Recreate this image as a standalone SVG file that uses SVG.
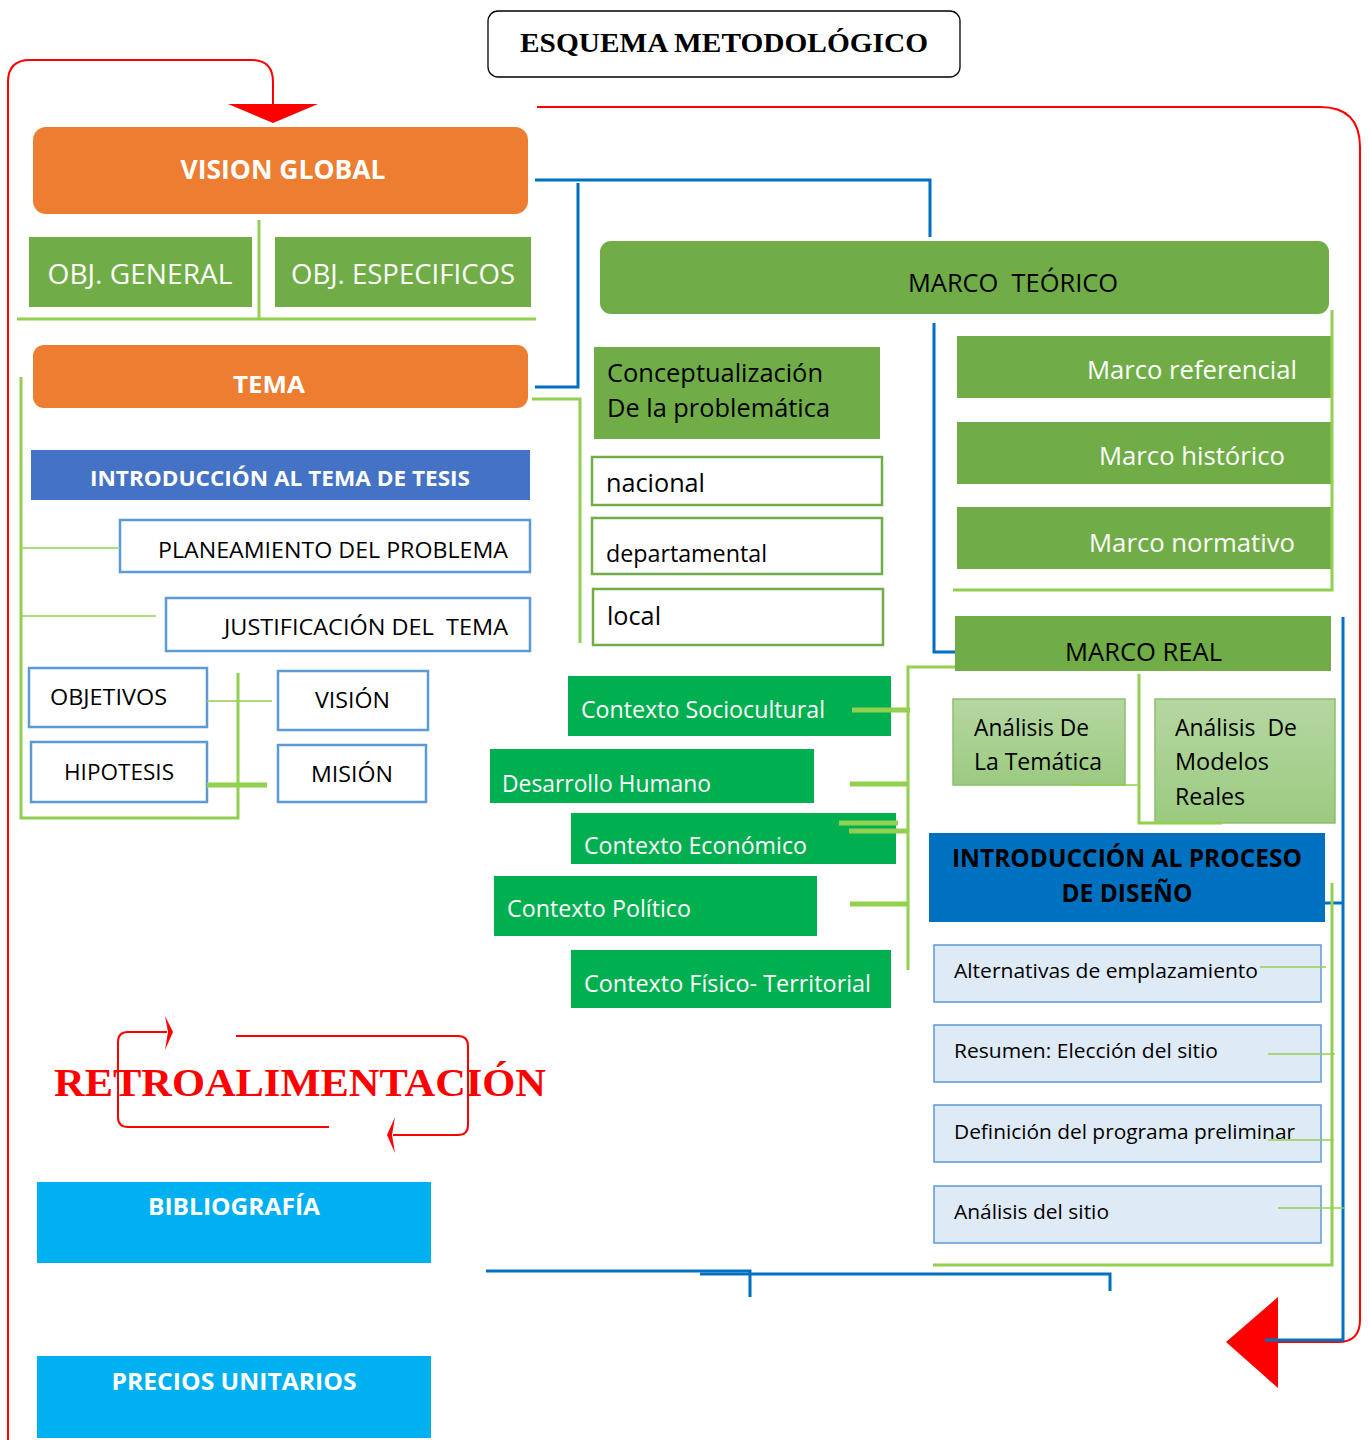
<svg xmlns="http://www.w3.org/2000/svg" width="1370" height="1440" viewBox="0 0 1370 1440">
<defs>
<linearGradient id="lg" x1="0" y1="0" x2="0" y2="1">
<stop offset="0" stop-color="#B5D7A2"/>
<stop offset="1" stop-color="#9CCA80"/>
</linearGradient>
<style>
.t{font-family:"Open Sans","Noto Sans","Liberation Sans",sans-serif;}
.b{font-weight:bold;}
.w{fill:#FFFFFF;}
.k{fill:#000000;}
.orange{fill:#ED7D31;}
.g{fill:#70AD47;}
.gg{fill:#00B050;}
.cy{fill:#00B0F0;}
.wb{fill:#FFFFFF;stroke:#5B9BD5;stroke-width:2.5;}
.wg{fill:#FFFFFF;stroke:#70AD47;stroke-width:2.5;}
.lb{fill:#DEEAF6;stroke:#5B9BD5;stroke-width:1.5;}
.lgbox{fill:url(#lg);stroke:#8DBF6E;stroke-width:1.5;}
.red{fill:none;stroke:#FF0000;stroke-width:2;}
.blue{fill:none;stroke:#0070C0;stroke-width:3;}
.grn{fill:none;stroke:#92D050;stroke-width:3;}
.grnt{fill:none;stroke:#92D050;stroke-width:1.3;}
.grnk{fill:none;stroke:#92D050;stroke-width:5;}
</style>
</defs>
<rect width="1370" height="1440" fill="#FFFFFF"/>

<g id="title">
<rect x="488" y="11" width="472" height="66" rx="10" fill="#FFFFFF" stroke="#000000" stroke-width="1.3"/>
<text x="724" y="52" text-anchor="middle" font-family="'Liberation Serif','Times New Roman',serif" font-weight="bold" font-size="28" textLength="408" lengthAdjust="spacingAndGlyphs">ESQUEMA METODOLÓGICO</text>
</g>

<g id="vision-global">
<rect class="orange" x="33" y="127" width="495" height="87" rx="13"/>
<text class="t b w" x="283" y="179" text-anchor="middle" font-size="27" textLength="205" lengthAdjust="spacingAndGlyphs">VISION GLOBAL</text>
</g>
<g id="obj-general">
<rect class="g" x="29" y="237" width="223" height="70"/>
<text class="t w" x="140" y="284" text-anchor="middle" font-size="27" textLength="185" lengthAdjust="spacingAndGlyphs">OBJ. GENERAL</text>
</g>
<g id="obj-especificos">
<rect class="g" x="275" y="237" width="256" height="70"/>
<text class="t w" x="403" y="284" text-anchor="middle" font-size="27" textLength="224" lengthAdjust="spacingAndGlyphs">OBJ. ESPECIFICOS</text>
</g>
<g id="tema">
<rect class="orange" x="33" y="345" width="495" height="63" rx="11"/>
<text class="t b w" x="269" y="393" text-anchor="middle" font-size="24" textLength="72" lengthAdjust="spacingAndGlyphs">TEMA</text>
</g>
<g id="intro-tema">
<rect x="31" y="450" width="499" height="50" fill="#4472C4"/>
<text class="t b w" x="280" y="486" text-anchor="middle" font-size="22" textLength="380" lengthAdjust="spacingAndGlyphs">INTRODUCCIÓN AL TEMA DE TESIS</text>
</g>
<g id="planeamiento">
<rect class="wb" x="120" y="520" width="410" height="52"/>
<text class="t k" x="508" y="558" text-anchor="end" font-size="22" textLength="350" lengthAdjust="spacingAndGlyphs">PLANEAMIENTO DEL PROBLEMA</text>
</g>
<g id="justificacion">
<rect class="wb" x="166" y="598" width="364" height="53"/>
<text class="t k" x="508" y="635" text-anchor="end" font-size="22" textLength="284" lengthAdjust="spacingAndGlyphs" xml:space="preserve">JUSTIFICACIÓN DEL  TEMA</text>
</g>
<g id="objetivos">
<rect class="wb" x="29" y="668" width="178" height="59"/>
<text class="t k" x="50" y="705" font-size="22" textLength="117" lengthAdjust="spacingAndGlyphs">OBJETIVOS</text>
</g>
<g id="hipotesis">
<rect class="wb" x="31" y="742" width="176" height="60"/>
<text class="t k" x="64" y="780" font-size="22" textLength="110" lengthAdjust="spacingAndGlyphs">HIPOTESIS</text>
</g>
<g id="vision">
<rect class="wb" x="278" y="671" width="150" height="59"/>
<text class="t k" x="315" y="708" font-size="22" textLength="75" lengthAdjust="spacingAndGlyphs">VISIÓN</text>
</g>
<g id="mision">
<rect class="wb" x="278" y="745" width="148" height="57"/>
<text class="t k" x="311" y="782" font-size="22" textLength="82" lengthAdjust="spacingAndGlyphs">MISIÓN</text>
</g>

<g id="marco-teorico">
<rect class="g" x="600" y="241" width="729" height="73" rx="11"/>
<text class="t k" x="908" y="292" font-size="26" textLength="210" lengthAdjust="spacingAndGlyphs" xml:space="preserve">MARCO  TEÓRICO</text>
</g>
<g id="conceptualizacion">
<rect class="g" x="594" y="347" width="286" height="92"/>
<text class="t k" x="607" y="382" font-size="25" textLength="216" lengthAdjust="spacingAndGlyphs">Conceptualización</text>
<text class="t k" x="607" y="417" font-size="25" textLength="223" lengthAdjust="spacingAndGlyphs">De la problemática</text>
</g>
<g id="nacional">
<rect class="wg" x="592" y="457" width="290" height="48"/>
<text class="t k" x="606" y="492" font-size="25" textLength="99" lengthAdjust="spacingAndGlyphs">nacional</text>
</g>
<g id="departamental">
<rect class="wg" x="592" y="518" width="290" height="56"/>
<text class="t k" x="606" y="562" font-size="24" textLength="161" lengthAdjust="spacingAndGlyphs">departamental</text>
</g>
<g id="local">
<rect class="wg" x="593" y="589" width="290" height="56"/>
<text class="t k" x="607" y="625" font-size="25" textLength="54" lengthAdjust="spacingAndGlyphs">local</text>
</g>

<g id="marco-referencial">
<rect class="g" x="957" y="336" width="374" height="62"/>
<text class="t w" x="1297" y="379" text-anchor="end" font-size="25" textLength="210" lengthAdjust="spacingAndGlyphs">Marco referencial</text>
</g>
<g id="marco-historico">
<rect class="g" x="957" y="422" width="374" height="62"/>
<text class="t w" x="1285" y="465" text-anchor="end" font-size="25" textLength="186" lengthAdjust="spacingAndGlyphs">Marco histórico</text>
</g>
<g id="marco-normativo">
<rect class="g" x="957" y="507" width="374" height="62"/>
<text class="t w" x="1295" y="552" text-anchor="end" font-size="25" textLength="206" lengthAdjust="spacingAndGlyphs">Marco normativo</text>
</g>
<g id="marco-real">
<rect class="g" x="955" y="616" width="376" height="55"/>
<text class="t k" x="1065" y="661" font-size="25" textLength="157" lengthAdjust="spacingAndGlyphs">MARCO REAL</text>
</g>
<g id="analisis-tematica">
<rect class="lgbox" x="953" y="699" width="172" height="86"/>
<text class="t k" x="974" y="736" font-size="24" textLength="115" lengthAdjust="spacingAndGlyphs">Análisis De</text>
<text class="t k" x="974" y="770" font-size="24" textLength="128" lengthAdjust="spacingAndGlyphs">La Temática</text>
</g>
<g id="analisis-modelos">
<rect class="lgbox" x="1155" y="699" width="180" height="124"/>
<text class="t k" x="1175" y="736" font-size="24" textLength="122" lengthAdjust="spacingAndGlyphs" xml:space="preserve">Análisis  De</text>
<text class="t k" x="1175" y="770" font-size="24" textLength="94" lengthAdjust="spacingAndGlyphs">Modelos</text>
<text class="t k" x="1175" y="805" font-size="24" textLength="70" lengthAdjust="spacingAndGlyphs">Reales</text>
</g>
<g id="intro-diseno">
<rect x="929" y="833" width="396" height="89" fill="#0070C0"/>
<text class="t b k" x="1127" y="867" text-anchor="middle" font-size="25" textLength="350" lengthAdjust="spacingAndGlyphs">INTRODUCCIÓN AL PROCESO</text>
<text class="t b k" x="1127" y="902" text-anchor="middle" font-size="25" textLength="131" lengthAdjust="spacingAndGlyphs">DE DISEÑO</text>
</g>
<g id="alternativas">
<rect class="lb" x="934" y="945" width="387" height="57"/>
<text class="t k" x="954" y="978" font-size="20" textLength="304" lengthAdjust="spacingAndGlyphs">Alternativas de emplazamiento</text>
</g>
<g id="resumen">
<rect class="lb" x="934" y="1025" width="387" height="57"/>
<text class="t k" x="954" y="1058" font-size="20" textLength="264" lengthAdjust="spacingAndGlyphs">Resumen: Elección del sitio</text>
</g>
<g id="definicion">
<rect class="lb" x="934" y="1105" width="387" height="57"/>
<text class="t k" x="954" y="1139" font-size="20" textLength="341" lengthAdjust="spacingAndGlyphs">Definición del programa preliminar</text>
</g>
<g id="analisis-sitio">
<rect class="lb" x="934" y="1186" width="387" height="57"/>
<text class="t k" x="954" y="1219" font-size="20" textLength="155" lengthAdjust="spacingAndGlyphs">Análisis del sitio</text>
</g>

<g id="contexto-sociocultural">
<rect class="gg" x="568" y="676" width="323" height="60"/>
<text class="t w" x="581" y="718" font-size="23" textLength="244" lengthAdjust="spacingAndGlyphs">Contexto Sociocultural</text>
</g>
<g id="desarrollo-humano">
<rect class="gg" x="490" y="749" width="324" height="54"/>
<text class="t w" x="502" y="792" font-size="23" textLength="209" lengthAdjust="spacingAndGlyphs">Desarrollo Humano</text>
</g>
<g id="contexto-economico">
<rect class="gg" x="571" y="813" width="325" height="51"/>
<text class="t w" x="584" y="854" font-size="23" textLength="223" lengthAdjust="spacingAndGlyphs">Contexto Económico</text>
</g>
<g id="contexto-politico">
<rect class="gg" x="494" y="876" width="323" height="60"/>
<text class="t w" x="507" y="917" font-size="23" textLength="184" lengthAdjust="spacingAndGlyphs">Contexto Político</text>
</g>
<g id="contexto-fisico">
<rect class="gg" x="571" y="950" width="320" height="58"/>
<text class="t w" x="584" y="992" font-size="23" textLength="287" lengthAdjust="spacingAndGlyphs">Contexto Físico- Territorial</text>
</g>

<g id="retroalimentacion">
<text x="54" y="1096" font-family="'Liberation Serif','Times New Roman',serif" font-weight="bold" font-size="41" fill="#FF0000" textLength="492" lengthAdjust="spacingAndGlyphs">RETROALIMENTACIÓN</text>
</g>
<g id="bibliografia">
<rect class="cy" x="37" y="1182" width="394" height="81"/>
<text class="t b w" x="234" y="1215" text-anchor="middle" font-size="23" textLength="172" lengthAdjust="spacingAndGlyphs">BIBLIOGRAFÍA</text>
</g>
<g id="precios-unitarios">
<rect class="cy" x="37" y="1356" width="394" height="82"/>
<text class="t b w" x="234" y="1390" text-anchor="middle" font-size="23" textLength="245" lengthAdjust="spacingAndGlyphs">PRECIOS UNITARIOS</text>
</g>

<g id="connectors">
<path class="red" d="M8,1440 V82 Q8,60 30,60 H251 Q273,60 273,82 V104"/>
<polygon points="228,104 318,104 273,123" fill="#FF0000"/>
<path class="red" d="M537,107 H1320 Q1360,107 1360,147 V1320 Q1360,1342 1338,1342 H1278"/>
<polygon points="1278,1297 1278,1388 1226,1342" fill="#FF0000"/>
<path class="blue" d="M535,180 H930 V237"/>
<path class="blue" d="M578,183 V387 H535"/>
<path class="blue" d="M934,323 V652 H955"/>
<path class="blue" d="M1343,617 V1340 H1265"/>
<path class="blue" d="M1325,903 H1343"/>
<path class="blue" d="M486,1271 H750 V1297"/>
<path class="blue" d="M700,1274 H1110 V1291"/>
<path class="grn" d="M259,220 V318"/>
<path class="grn" d="M17,319 H536"/>
<path class="grn" d="M21,377 V818 H238 V673"/>
<path class="grnt" d="M21,548 H120"/>
<path class="grnt" d="M21,616 H156"/>
<path class="grnt" d="M207,701 H272"/>
<path class="grnk" d="M207,785 H267"/>
<path class="grn" d="M532,399 H580 V643"/>
<path class="grn" d="M1332,310 V590 H953"/>
<path class="grn" d="M955,667 H908 V970"/>
<path class="grnk" d="M852,710 H910"/>
<path class="grnk" d="M850,784 H908"/>
<path class="grnk" d="M839,823 H898"/>
<path class="grnk" d="M849,831 H908"/>
<path class="grnk" d="M850,904 H908"/>
<path class="grn" d="M1139,674 V823 H1222"/>
<path class="grnt" d="M1073,785 H1139"/>
<path class="grn" d="M1332,883 V1265 H933"/>
<path class="grnt" d="M1260,967 H1326"/>
<path class="grnt" d="M1268,1054 H1335"/>
<path class="grnt" d="M1268,1140 H1334"/>
<path class="grnt" d="M1278,1208 H1345"/>
<path class="red" d="M329,1127 H128 Q118,1127 118,1117 V1042 Q118,1032 128,1032 H167"/>
<polygon points="165,1016 173,1032 165,1050 168,1032" fill="#FF0000"/>
<path class="red" d="M236,1036 H458 Q468,1036 468,1046 V1125 Q468,1135 458,1135 H393"/>
<polygon points="395,1117 387,1135 395,1153 392,1135" fill="#FF0000"/>
</g>
</svg>
